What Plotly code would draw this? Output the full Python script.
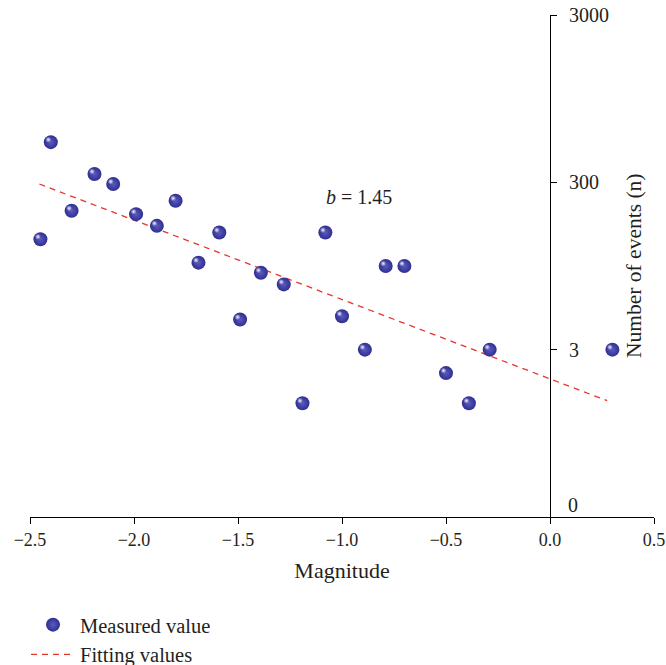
import plotly.graph_objects as go

# Measured values (x: magnitude, y: position on the event-count axis, tick units)
magnitude = [-2.45, -2.40, -2.30, -2.19, -2.10, -1.99, -1.89, -1.80, -1.69, -1.59,
             -1.49, -1.39, -1.28, -1.19, -1.08, -1.00, -0.89, -0.79, -0.70, -0.50,
             -0.39, -0.29, 0.30]
events = [1.66, 2.24, 1.83, 2.05, 1.99, 1.81, 1.74, 1.89, 1.52, 1.70,
          1.18, 1.46, 1.39, 0.68, 1.70, 1.20, 1.00, 1.50, 1.50, 0.86,
          0.68, 1.00, 1.00]

# Fitted line end points
fit_x = [-2.455, 0.275]
fit_y = [1.99, 0.695]

y_tickvals = [1, 2, 3]
y_ticktext = ["3", "300", "3000"]
x_tickvals = [-2.5, -2.0, -1.5, -1.0, -0.5, 0.0, 0.5]

FONT = "Liberation Serif"
TXT = "#231f20"
W, H = 666, 665
ML, MR, MT, MB = 30, 12, 15, 148
pw, ph = W - ML - MR, H - MT - MB

fig = go.Figure()
fig.add_trace(go.Scatter(
    x=fit_x, y=fit_y, mode="lines", name="Fitting values", legendrank=2,
    line=dict(color="#e8352b", width=1.3, dash="6px,5px")))
fig.add_trace(go.Scatter(
    x=magnitude, y=events, mode="markers", name="Measured value", legendrank=1,
    marker=dict(size=14, color="#2f2f90",
                gradient=dict(type="radial", color="#5a5ac0"),
                line=dict(width=0))))
# highlight overlay on slightly shifted axes
fig.add_trace(go.Scatter(
    x=magnitude, y=events, mode="markers", showlegend=False, hoverinfo="skip",
    xaxis="x2", yaxis="y2",
    marker=dict(size=6, color="rgba(255,255,255,0.0)",
                gradient=dict(type="radial", color="rgba(255,255,255,0.95)"),
                line=dict(width=0))))

sx = 2.5 * 3.0 / pw
sy = 2.5 * 3.0 / ph
fig.update_layout(
    width=W, height=H,
    margin=dict(l=ML, r=MR, t=MT, b=MB, autoexpand=False),
    paper_bgcolor="white", plot_bgcolor="white",
    font=dict(family=FONT, size=18, color=TXT),
    xaxis=dict(range=[-2.5, 0.5], tickvals=x_tickvals, tickformat=".1f",
               showgrid=False, zeroline=False, showline=True, linecolor="black",
               linewidth=1, ticks="outside", ticklen=6, tickcolor="black",
               automargin=False,
               title=dict(text="Magnitude", standoff=14)),
    yaxis=dict(range=[0, 3], tickvals=y_tickvals, ticktext=y_ticktext,
               side="right", anchor="free", position=2.5 / 3.0,
               showgrid=False, zeroline=False, showline=True, linecolor="black",
               linewidth=1, ticks="outside", ticklen=6, tickcolor="black",
               tickfont=dict(size=20),
               automargin=False, ticklabelstandoff=8),
    xaxis2=dict(range=[-2.5 + sx, 0.5 + sx], anchor="y2", overlaying="x", visible=False),
    yaxis2=dict(range=[0 - sy, 3 - sy], anchor="x2", overlaying="y", visible=False),
    showlegend=True,
    legend=dict(x=-0.0064, y=-0.175, xanchor="left", yanchor="top",
                traceorder="normal", itemwidth=44,
                font=dict(family=FONT, size=20.5, color=TXT),
                bgcolor="rgba(0,0,0,0)"),
    annotations=[
        dict(text="<i>b</i> = 1.45", x=-0.92, y=1.91, xref="x", yref="y",
             xanchor="center", showarrow=False,
             font=dict(family=FONT, size=20, color=TXT)),
        dict(text="0", x=0, y=0, xref="x", yref="y", xanchor="left",
             xshift=16, yshift=12, showarrow=False,
             font=dict(family=FONT, size=20, color=TXT)),
        dict(text="Number of events (n)", x=(634 - ML) / pw, y=(517 - 266) / ph,
             xref="paper", yref="paper", xanchor="center", yanchor="middle",
             textangle=-90, showarrow=False,
             font=dict(family=FONT, size=21.5, color=TXT)),
    ],
)
fig.write_html("out.html")
